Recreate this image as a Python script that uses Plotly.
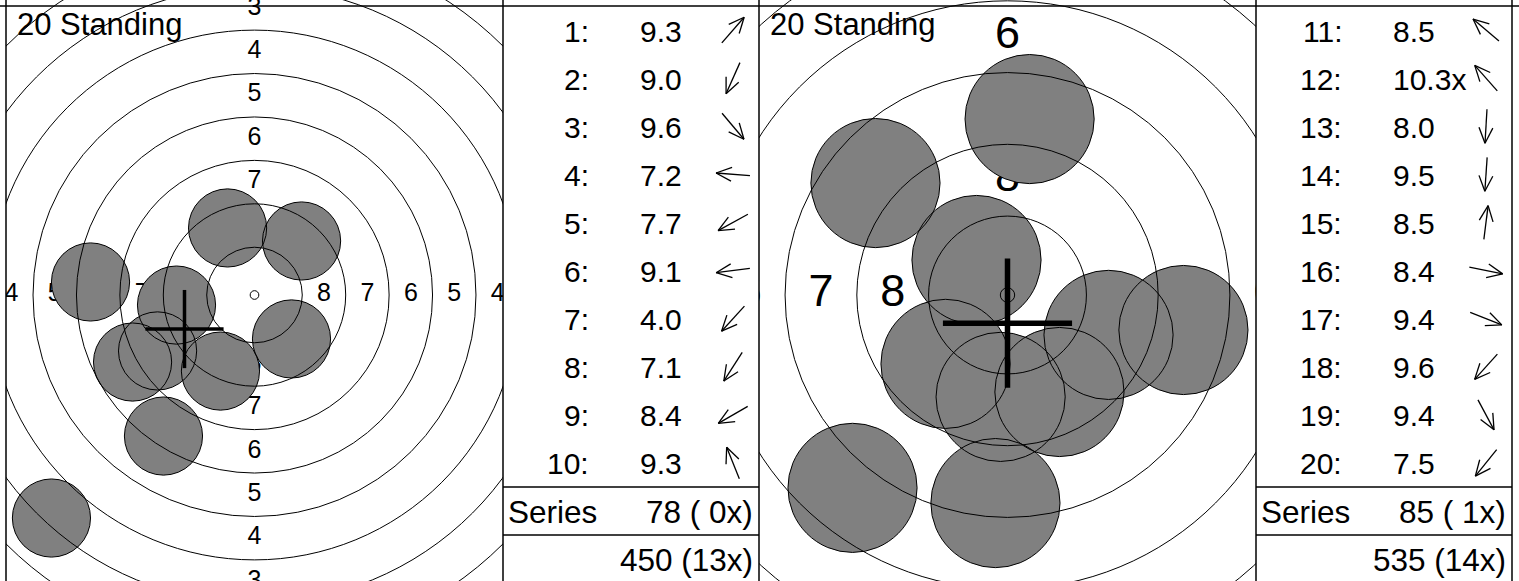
import math
import plotly.graph_objects as go

# ---------------- data ----------------
panel_title = "20 Standing"

ring_numbers = [1, 2, 3, 4, 5, 6, 7, 8, 9, 10]
ring_diameters_mm = [45.5, 40.5, 35.5, 30.5, 25.5, 20.5, 15.5, 10.5, 5.5, 0.5]
label_numbers = [1, 2, 3, 4, 5, 6, 7, 8]
pellet_diameter_mm = 4.5

s1_numbers = [1, 2, 3, 4, 5, 6, 7, 8, 9, 10]
s1_scores = [9.3, 9.0, 9.6, 7.2, 7.7, 9.1, 4.0, 7.1, 8.4, 9.3]
s1_inner = [False, False, False, False, False, False, False, False, False, False]
s1_x = [2.71, -1.96, 2.13, -9.44, -7.02, -4.49, -11.69, -5.24, -5.58, -1.55]
s1_y = [3.11, -4.38, -2.53, 0.75, -3.86, -0.58, -12.84, -8.12, -3.22, 3.86]
s1_group = [-4.03, -1.96]

s2_numbers = [11, 12, 13, 14, 15, 16, 17, 18, 19, 20]
s2_scores = [8.5, 10.3, 8.0, 9.5, 8.5, 8.4, 9.4, 9.6, 9.4, 7.5]
s2_inner = [False, True, False, False, False, False, False, False, False, False]
s2_x = [-4.60, -1.08, -0.42, -0.24, 0.77, 6.13, 3.52, -2.16, 1.81, -5.40]
s2_y = [3.90, 1.22, -7.25, -3.55, 6.13, -1.22, -1.39, -2.40, -3.38, -6.72]
s2_group = [0.0, -0.98]

running_totals = [450, 535]
running_inner = [13, 14]

# ---------------- layout constants ----------------
W, H = 1519, 581
FONT = "Liberation Sans, Arial, Helvetica, sans-serif"
RFS = 30      # row text size
TFS = 31.5    # series / total text size
TOP = 6
ROW_H = 48.1
TABLE_W = 256

def pxx(px):
    return px / W

def pyy(py):
    return 1 - py / H

panels = [
    dict(x="x", y="y", xl="xaxis", yl="yaxis", left=6, right=503, cy=295, scale=17.37,
         lab=25, cross=3.5, nums=s1_numbers, scores=s1_scores, inner=s1_inner,
         xs=s1_x, ys=s1_y, grp=s1_group, tx="x3", ty="y3", txl="xaxis3", tyl="yaxis3",
         tleft=503, run=0),
    dict(x="x2", y="y2", xl="xaxis2", yl="yaxis2", left=759, right=1256, cy=295, scale=28.7,
         lab=45, cross=5.5, nums=s2_numbers, scores=s2_scores, inner=s2_inner,
         xs=s2_x, ys=s2_y, grp=s2_group, tx="x4", ty="y4", txl="xaxis4", tyl="yaxis4",
         tleft=1256, run=1),
]

fig = go.Figure()
shapes = []
annotations = []
layout_axes = {}

hidden = dict(visible=False, showgrid=False, zeroline=False, fixedrange=True)

for p in panels:
    sc = p["scale"]
    half_w = (p["right"] - p["left"]) / 2 / sc
    layout_axes[p["xl"]] = dict(domain=[pxx(p["left"]), pxx(p["right"])],
                                range=[-half_w, half_w], anchor=p["y"], **hidden)
    layout_axes[p["yl"]] = dict(domain=[0, 1], range=[-(H - p["cy"]) / sc, p["cy"] / sc],
                                anchor=p["x"], **hidden)

    # ring labels (under the shots)
    lx, ly, lt = [], [], []
    for n in label_numbers:
        i = ring_numbers.index(n)
        r = (ring_diameters_mm[i] + ring_diameters_mm[i + 1]) / 4
        for (dx, dy) in [(0, 1), (0, -1), (1, 0), (-1, 0)]:
            lx.append(dx * r)
            ly.append(dy * r)
            lt.append(str(n))
    fig.add_trace(go.Scatter(x=lx, y=ly, text=lt, mode="text", textposition="middle center",
                             textfont=dict(size=p["lab"], color="black", family=FONT),
                             xaxis=p["x"], yaxis=p["y"], hoverinfo="skip", showlegend=False,
                             cliponaxis=True))

    R = pellet_diameter_mm / 2
    # shot fills
    for sx, sy in zip(p["xs"], p["ys"]):
        shapes.append(dict(type="circle", xref=p["x"], yref=p["y"], x0=sx - R, x1=sx + R,
                           y0=sy - R, y1=sy + R, fillcolor="#808080",
                           line=dict(width=0), layer="above"))
    # rings
    for d in ring_diameters_mm:
        r = d / 2
        shapes.append(dict(type="circle", xref=p["x"], yref=p["y"], x0=-r, x1=r, y0=-r, y1=r,
                           fillcolor="rgba(0,0,0,0)", line=dict(color="black", width=1),
                           layer="above"))
    # shot outlines
    for sx, sy in zip(p["xs"], p["ys"]):
        shapes.append(dict(type="circle", xref=p["x"], yref=p["y"], x0=sx - R, x1=sx + R,
                           y0=sy - R, y1=sy + R, fillcolor="rgba(0,0,0,0)",
                           line=dict(color="black", width=1), layer="above"))
    # group-centre cross
    gx, gy = p["grp"]
    shapes.append(dict(type="line", xref=p["x"], yref=p["y"], x0=gx - R, x1=gx + R, y0=gy, y1=gy,
                       line=dict(color="black", width=p["cross"]), layer="above"))
    shapes.append(dict(type="line", xref=p["x"], yref=p["y"], x0=gx, x1=gx, y0=gy - R, y1=gy + R,
                       line=dict(color="black", width=p["cross"]), layer="above"))

    annotations.append(dict(text=panel_title, xref="paper", yref="paper",
                            x=pxx(p["left"] + 9), y=pyy(24), xanchor="left", yanchor="middle",
                            showarrow=False, font=dict(size=31, color="black", family=FONT)))

    # ---------------- table ----------------
    layout_axes[p["txl"]] = dict(domain=[pxx(p["tleft"]), pxx(p["tleft"] + TABLE_W)],
                                 range=[0, TABLE_W], anchor=p["ty"], **hidden)
    layout_axes[p["tyl"]] = dict(domain=[0, pyy(TOP)], range=[H - TOP, 0],
                                 anchor=p["tx"], **hidden)
    ax, ay = [], []
    for k, (num, sc_, inn, sx, sy) in enumerate(zip(p["nums"], p["scores"], p["inner"],
                                                   p["xs"], p["ys"])):
        yc = ROW_H * (k + 0.5) + 1
        annotations.append(dict(text=f"{num}:", xref=p["tx"], yref=p["ty"], x=88, y=yc,
                                xanchor="right", yanchor="middle", showarrow=False,
                                font=dict(size=RFS, color="black", family=FONT)))
        annotations.append(dict(text=f"{sc_:.1f}" + ("x" if inn else ""), xref=p["tx"],
                                yref=p["ty"], x=135, y=yc, xanchor="left", yanchor="middle",
                                showarrow=False, font=dict(size=RFS, color="black", family=FONT)))
        # direction arrow
        L, HL, A = 34, 17, math.radians(24)
        nrm = math.hypot(sx, sy)
        ux, uy = sx / nrm, -sy / nrm
        cx, cy = 230, ROW_H * (k + 0.5)
        tipx, tipy = cx + ux * L / 2, cy + uy * L / 2
        tailx, taily = cx - ux * L / 2, cy - uy * L / 2
        ax += [tailx, tipx, None]
        ay += [taily, tipy, None]
        for s in (1, -1):
            ca, sa = math.cos(s * A), math.sin(s * A)
            bx = -(ux * ca - uy * sa)
            by = -(ux * sa + uy * ca)
            ax += [tipx, tipx + bx * HL, None]
            ay += [tipy, tipy + by * HL, None]
    fig.add_trace(go.Scatter(x=ax, y=ay, mode="lines", line=dict(color="black", width=1.3),
                             xaxis=p["tx"], yaxis=p["ty"], hoverinfo="skip", showlegend=False))

    series_sum = sum(int(math.floor(v + 1e-9)) for v in p["scores"])
    series_x = sum(1 for v in p["inner"] if v)
    ys_series = ROW_H * 10.5 + 1
    ys_total = ROW_H * 11.5 + 1
    annotations.append(dict(text="Series", xref=p["tx"], yref=p["ty"], x=3, y=ys_series,
                            xanchor="left", yanchor="middle", showarrow=False,
                            font=dict(size=TFS, color="black", family=FONT)))
    annotations.append(dict(text=f"{series_sum} ({series_x:2d}x)",
                            xref=p["tx"], yref=p["ty"], x=252, y=ys_series,
                            xanchor="right", yanchor="middle", showarrow=False,
                            font=dict(size=TFS, color="black", family=FONT)))
    annotations.append(dict(text=f"{running_totals[p['run']]} ({running_inner[p['run']]:2d}x)",
                            xref=p["tx"], yref=p["ty"], x=252, y=ys_total,
                            xanchor="right", yanchor="middle", showarrow=False,
                            font=dict(size=TFS, color="black", family=FONT)))

    # table row separators
    for rr in (10, 11):
        py = TOP + ROW_H * rr
        shapes.append(dict(type="line", xref="paper", yref="paper", x0=pxx(p["tleft"]),
                           x1=pxx(p["tleft"] + TABLE_W), y0=pyy(py), y1=pyy(py),
                           line=dict(color="black", width=1.5), layer="above"))

# frame lines
shapes.append(dict(type="line", xref="paper", yref="paper", x0=0, x1=1, y0=pyy(TOP), y1=pyy(TOP),
                   line=dict(color="black", width=1.5), layer="above"))
for px in (6, 503, 759, 1256, 1512):
    shapes.append(dict(type="line", xref="paper", yref="paper", x0=pxx(px), x1=pxx(px),
                       y0=0, y1=1, line=dict(color="black", width=1.5), layer="above"))

fig.update_layout(width=W, height=H, margin=dict(l=0, r=0, t=0, b=0),
                  paper_bgcolor="white", plot_bgcolor="white", showlegend=False,
                  shapes=shapes, annotations=annotations, **layout_axes)

fig.write_html("out.html", config={"displayModeBar": False, "staticPlot": True},
               post_script="document.body.style.margin='0';document.body.style.overflow='hidden';")
